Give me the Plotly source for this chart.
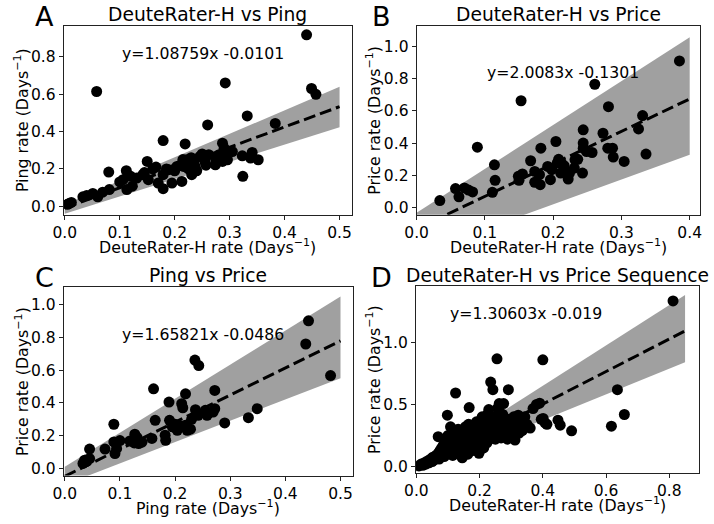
import plotly.graph_objects as go

FONT = "DejaVu Sans"

# ---------------- Panel A: DeuteRater-H vs Ping ----------------
a_x = [0.005, 0.012, 0.008, 0.033, 0.040, 0.051, 0.060, 0.069, 0.081, 0.080, 0.058, 0.106,
       0.112, 0.113, 0.123, 0.131, 0.142, 0.150, 0.152, 0.166, 0.170, 0.179, 0.179, 0.179,
       0.189, 0.195, 0.204, 0.213, 0.216, 0.219, 0.222, 0.231, 0.237, 0.246, 0.255, 0.260,
       0.257, 0.262, 0.274, 0.275, 0.281, 0.287, 0.290, 0.292, 0.293, 0.296, 0.305, 0.287,
       0.323, 0.338, 0.341, 0.352, 0.324, 0.332, 0.383, 0.440, 0.449, 0.457, 0.100, 0.120,
       0.145, 0.160, 0.200, 0.210, 0.225, 0.235, 0.240, 0.250, 0.215, 0.200, 0.185, 0.230]
a_y = [0.010, 0.020, 0.015, 0.050, 0.057, 0.068, 0.050, 0.075, 0.089, 0.183, 0.615, 0.142,
       0.190, 0.089, 0.107, 0.151, 0.169, 0.240, 0.142, 0.210, 0.124, 0.094, 0.169, 0.352,
       0.196, 0.124, 0.213, 0.133, 0.213, 0.334, 0.249, 0.169, 0.213, 0.267, 0.240, 0.436,
       0.220, 0.276, 0.222, 0.249, 0.276, 0.338, 0.311, 0.661, 0.276, 0.249, 0.293, 0.240,
       0.270, 0.258, 0.288, 0.249, 0.160, 0.484, 0.444, 0.919, 0.631, 0.600, 0.130, 0.160,
       0.180, 0.200, 0.190, 0.220, 0.200, 0.240, 0.190, 0.280, 0.250, 0.200, 0.200, 0.260]
a_fit = [1.08759, -0.0101]
a_band_x = [0.0, 0.5]
a_band_lo = [-0.04, 0.423]
a_band_hi = [0.01, 0.64]

# ---------------- Panel B: DeuteRater-H vs Price ----------------
b_x = [0.034, 0.057, 0.062, 0.070, 0.076, 0.082, 0.089, 0.111, 0.114, 0.115, 0.149, 0.150,
       0.153, 0.155, 0.167, 0.173, 0.173, 0.180, 0.181, 0.182, 0.192, 0.196, 0.198, 0.204,
       0.206, 0.208, 0.211, 0.212, 0.216, 0.222, 0.224, 0.231, 0.232, 0.236, 0.243, 0.244,
       0.244, 0.244, 0.249, 0.257, 0.261, 0.273, 0.280, 0.281, 0.287, 0.288, 0.304, 0.325,
       0.331, 0.336, 0.385]
b_y = [0.045, 0.119, 0.068, 0.123, 0.110, 0.098, 0.375, 0.096, 0.266, 0.170, 0.195, 0.170,
       0.662, 0.209, 0.291, 0.158, 0.225, 0.205, 0.143, 0.369, 0.256, 0.174, 0.236, 0.410,
       0.277, 0.300, 0.215, 0.277, 0.260, 0.178, 0.215, 0.246, 0.297, 0.300, 0.215, 0.369,
       0.400, 0.482, 0.348, 0.342, 0.764, 0.461, 0.369, 0.625, 0.369, 0.314, 0.287, 0.488,
       0.570, 0.332, 0.908]
b_fit = [2.0083, -0.1301]
b_band_x = [0.0, 0.4]
b_band_lo = [-0.285, 0.328]
b_band_hi = [-0.03, 1.055]

# ---------------- Panel C: Ping vs Price ----------------
c_x = [0.033, 0.036, 0.039, 0.045, 0.045, 0.073, 0.089, 0.089, 0.091, 0.094, 0.100, 0.118,
       0.126, 0.127, 0.131, 0.134, 0.140, 0.158, 0.161, 0.164, 0.182, 0.183, 0.189, 0.190,
       0.195, 0.200, 0.204, 0.210, 0.212, 0.214, 0.219, 0.219, 0.222, 0.228, 0.236, 0.243,
       0.237, 0.242, 0.255, 0.258, 0.260, 0.269, 0.272, 0.272, 0.290, 0.333, 0.349, 0.437,
       0.442, 0.482, 0.230, 0.200]
c_y = [0.030, 0.050, 0.041, 0.118, 0.060, 0.118, 0.270, 0.162, 0.091, 0.122, 0.170, 0.168,
       0.156, 0.209, 0.189, 0.152, 0.160, 0.183, 0.487, 0.294, 0.203, 0.172, 0.406, 0.294,
       0.254, 0.250, 0.233, 0.260, 0.396, 0.371, 0.456, 0.264, 0.233, 0.240, 0.663, 0.629,
       0.359, 0.325, 0.355, 0.325, 0.335, 0.345, 0.365, 0.477, 0.278, 0.310, 0.365, 0.761,
       0.903, 0.568, 0.300, 0.270]
c_fit = [1.65821, -0.0486]
c_band_x = [0.0, 0.5]
c_band_lo = [-0.10, 0.552]
c_band_hi = [0.01, 1.051]

# ---------------- Panel D: DeuteRater-H vs Price Sequence ----------------
d_x = [0.008, 0.015, 0.020, 0.025, 0.030, 0.035, 0.040, 0.045, 0.050, 0.052, 0.058, 0.062,
       0.065, 0.069, 0.070, 0.072, 0.075, 0.078, 0.080, 0.083, 0.085, 0.088, 0.090, 0.092,
       0.095, 0.098, 0.098, 0.100, 0.102, 0.105, 0.108, 0.110, 0.112, 0.115, 0.117, 0.120,
       0.122, 0.124, 0.125, 0.127, 0.130, 0.132, 0.135, 0.137, 0.140, 0.142, 0.145, 0.147,
       0.150, 0.152, 0.155, 0.157, 0.160, 0.163, 0.165, 0.167, 0.168, 0.170, 0.172, 0.175,
       0.178, 0.180, 0.182, 0.185, 0.188, 0.190, 0.193, 0.195, 0.198, 0.200, 0.203, 0.205,
       0.208, 0.210, 0.213, 0.215, 0.218, 0.220, 0.223, 0.225, 0.228, 0.229, 0.232, 0.235,
       0.236, 0.240, 0.242, 0.244, 0.247, 0.250, 0.253, 0.255, 0.257, 0.260, 0.262, 0.265,
       0.268, 0.270, 0.273, 0.276, 0.278, 0.280, 0.285, 0.288, 0.291, 0.293, 0.297, 0.300,
       0.305, 0.308, 0.312, 0.315, 0.318, 0.322, 0.325, 0.330, 0.335, 0.343, 0.350, 0.360,
       0.369, 0.380, 0.390, 0.395, 0.400, 0.401, 0.407, 0.413, 0.448, 0.455, 0.491, 0.617,
       0.636, 0.658, 0.812]
d_y = [0.005, 0.020, 0.010, 0.030, 0.020, 0.045, 0.030, 0.060, 0.040, 0.075, 0.055, 0.090,
       0.070, 0.240, 0.110, 0.060, 0.130, 0.090, 0.150, 0.110, 0.170, 0.080, 0.130, 0.200,
       0.100, 0.413, 0.160, 0.250, 0.120, 0.190, 0.320, 0.140, 0.220, 0.090, 0.170, 0.270,
       0.130, 0.592, 0.200, 0.240, 0.160, 0.300, 0.110, 0.210, 0.250, 0.180, 0.070, 0.280,
       0.220, 0.140, 0.320, 0.190, 0.260, 0.100, 0.340, 0.475, 0.220, 0.300, 0.160, 0.260,
       0.200, 0.330, 0.130, 0.280, 0.230, 0.360, 0.180, 0.300, 0.107, 0.250, 0.330, 0.200,
       0.400, 0.280, 0.150, 0.350, 0.240, 0.310, 0.190, 0.420, 0.270, 0.459, 0.220, 0.680,
       0.350, 0.250, 0.619, 0.300, 0.400, 0.220, 0.330, 0.867, 0.470, 0.270, 0.507, 0.360,
       0.230, 0.300, 0.420, 0.507, 0.260, 0.350, 0.300, 0.220, 0.619, 0.380, 0.270, 0.330,
       0.250, 0.400, 0.213, 0.300, 0.360, 0.413, 0.270, 0.330, 0.290, 0.400, 0.340, 0.310,
       0.467, 0.500, 0.510, 0.380, 0.859, 0.387, 0.352, 0.340, 0.373, 0.333, 0.288, 0.325,
       0.619, 0.419, 1.333]
d_fit = [1.30603, -0.019]
d_band_x = [0.0, 0.85]
d_band_lo = [-0.04, 0.84]
d_band_hi = [0.0, 1.381]

titles = ["DeuteRater-H vs Ping", "DeuteRater-H vs Price", "Ping vs Price",
          "DeuteRater-H vs Price Sequence"]
letters = ["A", "B", "C", "D"]
x_labels = ["DeuteRater-H rate (Days<sup>−1</sup>)", "DeuteRater-H rate (Days<sup>−1</sup>)",
            "Ping rate (Days<sup>−1</sup>)", "DeuteRater-H rate (Days<sup>−1</sup>)"]
y_labels = ["Ping rate (Days<sup>−1</sup>)", "Price rate (Days<sup>−1</sup>)",
            "Price rate (Days<sup>−1</sup>)", "Price rate (Days<sup>−1</sup>)"]
eq_labels = ["y=1.08759x -0.0101", "y=2.0083x -0.1301", "y=1.65821x -0.0486", "y=1.30603x -0.019"]
eq_pos = [(0.1, 0.82), (0.1, 0.834), (0.1, 0.82), (0.099, 1.23)]

x_ticks = [[0, 0.1, 0.2, 0.3, 0.4, 0.5], [0, 0.1, 0.2, 0.3, 0.4],
           [0, 0.1, 0.2, 0.3, 0.4, 0.5], [0, 0.2, 0.4, 0.6, 0.8]]
y_ticks = [[0, 0.2, 0.4, 0.6, 0.8], [0, 0.2, 0.4, 0.6, 0.8, 1.0],
           [0, 0.2, 0.4, 0.6, 0.8, 1.0], [0, 0.5, 1.0]]
x_ranges = [[-0.002, 0.523], [0.0, 0.415], [-0.002, 0.523], [-0.0015, 0.894]]
y_ranges = [[-0.046, 0.967], [-0.043, 1.125], [-0.044, 1.112], [-0.05, 1.45]]

# layout geometry (pixels)
W, H = 714, 524
boxes = [(52.7, 347.0, 26.0, 216.0), (412.7, 701.7, 26.0, 216.0),
         (52.7, 348.0, 288.3, 478.3), (412.0, 700.7, 288.0, 475.5)]

panels = [
    (a_x, a_y, a_fit, a_band_x, a_band_lo, a_band_hi),
    (b_x, b_y, b_fit, b_band_x, b_band_lo, b_band_hi),
    (c_x, c_y, c_fit, c_band_x, c_band_lo, c_band_hi),
    (d_x, d_y, d_fit, d_band_x, d_band_lo, d_band_hi),
]

fig = go.Figure()
annotations = []
layout_axes = {}

for i, (px, py, fit, bx, blo, bhi) in enumerate(panels):
    n = "" if i == 0 else str(i + 1)
    xa, ya = "x" + n, "y" + n
    # band
    fig.add_trace(go.Scatter(
        x=[bx[0], bx[1], bx[1], bx[0], bx[0]],
        y=[blo[0], blo[1], bhi[1], bhi[0], blo[0]],
        mode="lines", fill="toself", fillcolor="#a0a0a0",
        line=dict(width=0, color="#a0a0a0"), hoverinfo="skip",
        xaxis=xa, yaxis=ya, showlegend=False))
    # points
    fig.add_trace(go.Scatter(
        x=px, y=py, mode="markers",
        marker=dict(color="black", size=11, line=dict(width=0)),
        xaxis=xa, yaxis=ya, showlegend=False))
    # fit line
    lx = [bx[0], bx[1]]
    ly = [fit[0] * v + fit[1] for v in lx]
    fig.add_trace(go.Scatter(
        x=lx, y=ly, mode="lines",
        line=dict(color="black", width=3, dash="12px,5px"),
        xaxis=xa, yaxis=ya, showlegend=False))

    x0, x1, y0, y1 = boxes[i]
    common = dict(showline=True, mirror=True, linecolor="#222", linewidth=1,
                  ticks="outside", ticklen=4, tickwidth=1, tickcolor="#222",
                  showgrid=False, zeroline=False, tickformat=".1f",
                  tickfont=dict(family=FONT, size=15.5, color="black"))
    layout_axes["xaxis" + n] = dict(common, domain=[x0 / W, x1 / W], anchor=ya,
                                    range=x_ranges[i], tickvals=x_ticks[i])
    layout_axes["yaxis" + n] = dict(common, domain=[1 - y1 / H, 1 - y0 / H], anchor=xa,
                                    range=y_ranges[i], tickvals=y_ticks[i])

    cx = (x0 + x1) / 2
    cy = (y0 + y1) / 2
    # title
    annotations.append(dict(text=titles[i], x=cx / W, y=1 - (y0 - 11) / H,
                            xref="paper", yref="paper", showarrow=False,
                            xanchor="center", yanchor="middle",
                            font=dict(family=FONT, size=18.7, color="black")))
    # panel letter
    lx_px = 33 if i % 2 == 0 else 377
    annotations.append(dict(text=letters[i], x=lx_px / W, y=1 - (y0 - 9) / H,
                            xref="paper", yref="paper", showarrow=False,
                            xanchor="center", yanchor="middle",
                            font=dict(family=FONT, size=27, color="black")))
    # x label
    annotations.append(dict(text=x_labels[i], x=cx / W, y=1 - (y1 + 32) / H,
                            xref="paper", yref="paper", showarrow=False,
                            xanchor="center", yanchor="middle",
                            font=dict(family=FONT, size=15.8, color="black")))
    # y label
    ylx = 10 if i % 2 == 0 else 368.7
    annotations.append(dict(text=y_labels[i], x=ylx / W, y=1 - cy / H,
                            xref="paper", yref="paper", showarrow=False, textangle=-90,
                            xanchor="center", yanchor="middle",
                            font=dict(family=FONT, size=15.8, color="black")))
    # equation
    annotations.append(dict(text=eq_labels[i], x=eq_pos[i][0], y=eq_pos[i][1],
                            xref=xa, yref=ya, showarrow=False,
                            xanchor="left", yanchor="middle",
                            font=dict(family=FONT, size=15.7, color="black")))

fig.update_layout(
    width=W, height=H, margin=dict(l=0, r=0, t=0, b=0),
    paper_bgcolor="white", plot_bgcolor="white",
    font=dict(family=FONT, color="black"),
    annotations=annotations, **layout_axes)

fig.write_html("out.html", config={"displayModeBar": False},
               post_script="document.body.style.margin='0';document.body.style.padding='0';")
